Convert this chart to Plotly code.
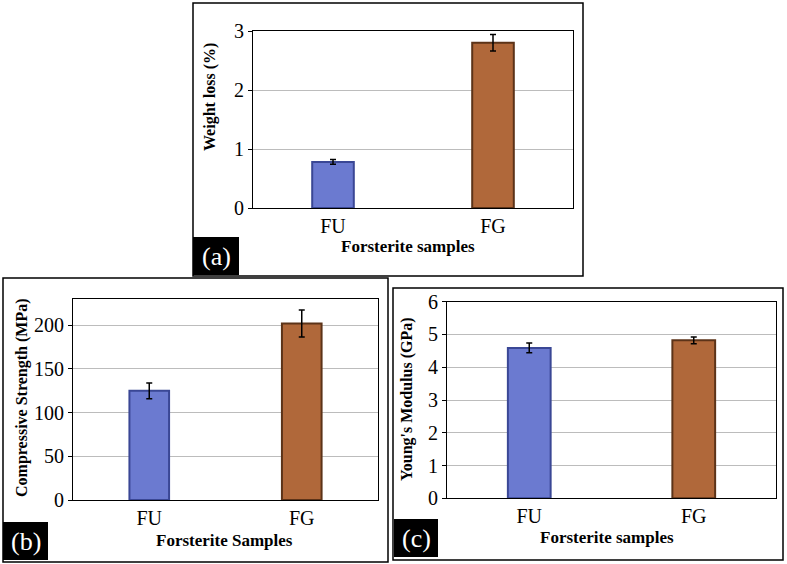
import plotly.graph_objects as go

categories = ["FU", "FG"]

weight_loss = [0.78, 2.80]
weight_loss_err = [0.04, 0.14]

comp_strength = [125, 202]
comp_strength_err = [9, 15.5]

youngs_modulus = [4.59, 4.82]
youngs_modulus_err = [0.15, 0.10]

yticks_a = [0, 1, 2, 3]
yticks_b = [0, 50, 100, 150, 200]
yticks_c = [0, 1, 2, 3, 4, 5, 6]

W, H = 787, 564
bar_fill = ["#6b7ad0", "#b0683a"]
bar_edge = ["#3a4795", "#5c3318"]
FONT = "Liberation Serif"

fig = go.Figure()

panels = [
    dict(vals=weight_loss, err=weight_loss_err, x="x", y="y"),
    dict(vals=comp_strength, err=comp_strength_err, x="x2", y="y2"),
    dict(vals=youngs_modulus, err=youngs_modulus_err, x="x3", y="y3"),
]
for p in panels:
    fig.add_trace(go.Bar(
        x=categories, y=p["vals"], xaxis=p["x"], yaxis=p["y"],
        marker=dict(color=bar_fill, line=dict(color=bar_edge, width=2)),
        error_y=dict(type="data", array=p["err"], color="black", thickness=1.5, width=3),
        width=0.26, showlegend=False,
    ))

def px_x(a, b):
    return [a / W, b / W]

def px_y(top, bottom):
    return [1 - bottom / H, 1 - top / H]

axis_common = dict(showline=True, linecolor="black", linewidth=1, mirror=True, automargin=False,
                   showgrid=False,
                   tickfont=dict(family=FONT, size=20, color="black"))
yaxis_common = dict(showline=True, linecolor="black", linewidth=1, mirror=True, automargin=False,
                    showgrid=True, gridcolor="#bcbcbc", gridwidth=1,
                    ticks="outside", ticklen=4, tickcolor="black",
                    zeroline=True, zerolinecolor="black", zerolinewidth=1,
                    tickfont=dict(family=FONT, size=20, color="black"))

fig.update_layout(
    template="none",
    width=W, height=H,
    margin=dict(l=0, r=0, t=0, b=0, pad=0, autoexpand=False),
    paper_bgcolor="white", plot_bgcolor="white",
    bargap=0.74,
    xaxis=dict(domain=px_x(253, 573), anchor="y", ticks="", **axis_common),
    yaxis=dict(domain=px_y(31, 208), anchor="x", range=[0, 3], tickvals=yticks_a, **yaxis_common),
    xaxis2=dict(domain=px_x(73, 378), anchor="y2", ticks="", **axis_common),
    yaxis2=dict(domain=px_y(299, 500), anchor="x2", range=[0, 230], tickvals=yticks_b, **yaxis_common),
    xaxis3=dict(domain=px_x(447, 776), anchor="y3", ticks="", **axis_common),
    yaxis3=dict(domain=px_y(301.7, 498.3), anchor="x3", range=[0, 6], tickvals=yticks_c, **yaxis_common),
)

# Outer frames
for (x0, y0, x1, y1) in [(193, 3, 583, 276), (3, 278, 388, 562), (393, 288, 783, 560)]:
    fig.add_shape(type="rect", xref="paper", yref="paper",
                  x0=x0 / W, x1=x1 / W, y0=1 - y0 / H, y1=1 - y1 / H,
                  line=dict(color="black", width=1.5), fillcolor="rgba(0,0,0,0)")

# Label boxes
for (x0, y0, x1, y1, lab) in [(193, 237, 239, 275, "(a)"), (3, 522, 48, 560, "(b)"), (394, 519, 438, 557, "(c)")]:
    fig.add_shape(type="rect", xref="paper", yref="paper",
                  x0=x0 / W, x1=x1 / W, y0=1 - y0 / H, y1=1 - y1 / H,
                  line=dict(color="black", width=0), fillcolor="black")
    fig.add_annotation(xref="paper", yref="paper", x=(x0 + x1) / 2 / W, y=1 - (y0 + y1) / 2 / H,
                       text=lab, showarrow=False, xanchor="center", yanchor="middle",
                       font=dict(family=FONT, size=26, color="white"))

# Axis titles
def title(x, y, text, angle=0, size=17):
    fig.add_annotation(xref="paper", yref="paper", x=x / W, y=1 - y / H, text="<b>" + text + "</b>",
                       showarrow=False, textangle=angle, xanchor="center", yanchor="middle",
                       font=dict(family=FONT, size=size, color="black"))

title(408, 246, "Forsterite samples")
title(225, 540, "Forsterite Samples")
title(607, 537, "Forsterite samples")
title(210, 97, "Weight loss (%)", angle=-90, size=16)
title(22, 398, "Compressive Strength (MPa)", angle=-90, size=16)
title(407, 399, "Young's Modulus (GPa)", angle=-90, size=16)

fig.write_html("out.html", config={"displayModeBar": False},
               post_script="document.body.style.margin='0';document.body.style.padding='0';document.body.style.overflow='hidden';")
